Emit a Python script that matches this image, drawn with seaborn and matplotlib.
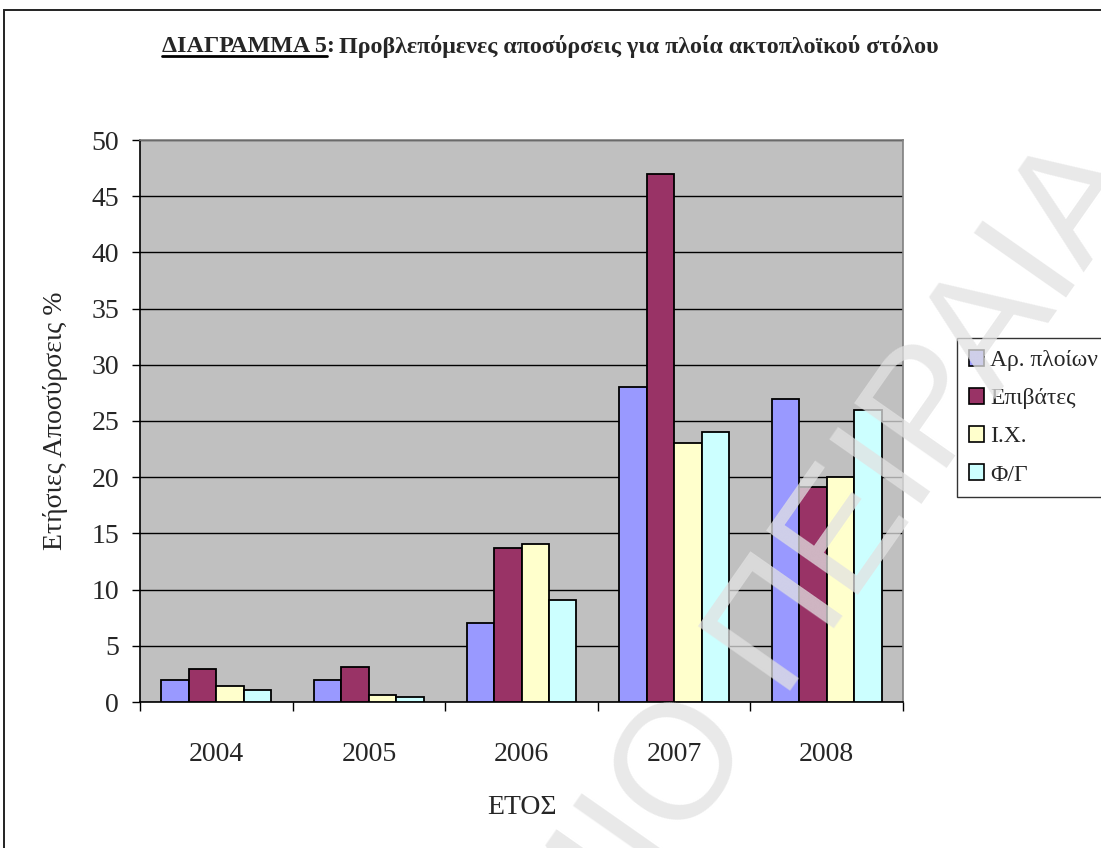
import matplotlib
matplotlib.use("Agg")
import matplotlib.pyplot as plt
from matplotlib.patches import Patch, Rectangle
from matplotlib.lines import Line2D
import numpy as np
import pandas as pd
import seaborn as sns

# ---- data -------------------------------------------------------------
years = ["2004", "2005", "2006", "2007", "2008"]
series = ["Αρ. πλοίων", "Επιβάτες", "Ι.Χ.", "Φ/Γ"]
ships = [2.0, 2.0, 7.0, 28.0, 27.0]
passengers = [2.9, 3.1, 13.7, 47.0, 19.1]
cars = [1.4, 0.6, 14.1, 23.0, 20.0]
trucks = [1.1, 0.45, 9.1, 24.0, 26.0]
colors = ["#9999FF", "#993366", "#FFFFCC", "#CCFFFF"]
yticks = [0, 5, 10, 15, 20, 25, 30, 35, 40, 45, 50]

df = pd.DataFrame({
    "ΕΤΟΣ": years * 4,
    "series": np.repeat(series, len(years)),
    "value": ships + passengers + cars + trucks,
})

sns.set_theme(style="white")
plt.rcParams["font.family"] = ["Liberation Serif", "DejaVu Serif"]

W, H = 1101, 848
fig = plt.figure(figsize=(W / 100, H / 100), dpi=100)
fig.patch.set_facecolor("white")

# page frame
fig.patches.append(Rectangle((4 / W, -0.05), 1.2, 1 - 10 / H + 0.05,
                             transform=fig.transFigure, fill=False,
                             edgecolor="#222222", linewidth=1.4, zorder=0))

ax = fig.add_axes([140 / W, (H - 702) / H, 763 / W, 562 / H])
ax.set_facecolor("#C0C0C0")

sns.barplot(data=df, x="ΕΤΟΣ", y="value", hue="series", hue_order=series,
            order=years, palette=colors, saturation=1, width=0.72,
            edgecolor="black", linewidth=1.3, legend=False, ax=ax, zorder=3)

ax.set_ylim(0, 50)
ax.set_xlim(-0.5, len(years) - 0.5)
ax.set_yticks(yticks)
ax.set_yticklabels([str(v) for v in yticks])
ax.yaxis.grid(True, color="black", linewidth=1.0, zorder=1)
ax.set_axisbelow(True)

# category boundaries carry the x tick marks
ax.set_xticks(np.arange(-0.5, len(years), 1.0), minor=True)
ax.tick_params(axis="x", which="minor", bottom=True, length=6.5, width=1.0,
               color="black", direction="out")
ax.tick_params(axis="x", which="major", bottom=False, length=0, pad=29,
               labelsize=20)
ax.tick_params(axis="y", left=True, length=6, width=1.0, color="black",
               direction="out", pad=9, labelsize=20)

for side in ["top", "right"]:
    ax.spines[side].set_color("#808080")
    ax.spines[side].set_linewidth(1.2)
for side in ["left", "bottom"]:
    ax.spines[side].set_color("black")
    ax.spines[side].set_linewidth(1.2)

ax.set_xlabel("ΕΤΟΣ", fontsize=20, labelpad=20)
ax.set_ylabel("Ετήσιες Αποσύρσεις %", fontsize=20, labelpad=17)

# legend (its right side runs past the page edge)
handles = [Patch(facecolor=c, edgecolor="black", linewidth=1.2) for c in colors]
leg = fig.legend(handles, series, loc="upper left",
                 bbox_to_anchor=(957 / W, 1 - 338 / H),
                 prop={"family": "Liberation Serif", "size": 17},
                 frameon=True, fancybox=False, edgecolor="black",
                 handlelength=0.65, handleheight=0.65, handletextpad=0.25,
                 labelspacing=0.72, borderpad=0.5, borderaxespad=0)
leg.get_frame().set_linewidth(1.0)

# title: underlined label followed by the caption
ty = 1 - 47 / H
tfs = 17.3
t1 = fig.text(162 / W, ty, "ΔΙΑΓΡΑΜΜΑ 5:", fontsize=tfs, fontweight="bold",
              ha="left", va="center")
fig.canvas.draw()
r = fig.canvas.get_renderer()
bb = t1.get_window_extent(r).transformed(fig.transFigure.inverted())
tc = fig.text(0, 0, ":", fontsize=tfs, fontweight="bold")
colon_w = tc.get_window_extent(r).width / W
tc.remove()
fig.add_artist(Line2D([bb.x0, bb.x1 - colon_w], [bb.y0 + 0.002, bb.y0 + 0.002],
                      transform=fig.transFigure, color="black", linewidth=2.0))
fig.text(bb.x1 + 4 / W, ty, "Προβλεπόμενες αποσύρσεις για πλοία ακτοπλοϊκού στόλου",
         fontsize=tfs, fontweight="bold", ha="left", va="center")

# faint diagonal watermark
wfs = 118
wm = dict(fontsize=wfs, family=["Liberation Sans", "DejaVu Sans"], color="#E2E2E2",
          alpha=0.75, rotation=55, rotation_mode="anchor", va="center", zorder=10)
ox, oy = 680 / W, 1 - 757 / H
ang = np.deg2rad(55)
# "Ο" is centred on the anchor; the next word follows along the baseline
ow = 0.39 * wfs * 100 / 72
dx, dy = ow * np.cos(ang), ow * np.sin(ang)
fig.text(ox + dx / W, oy + dy / H, "ΠΑΝΕΠΙΣΤΗΜΙΟ", ha="right", **wm)
sp = 0.28 * wfs * 100 / 72
fig.text(ox + (dx + sp * np.cos(ang)) / W, oy + (dy + sp * np.sin(ang)) / H,
         "ΠΕΙΡΑΙΑ", ha="left", **wm)

fig.savefig("out.png", dpi=100)
